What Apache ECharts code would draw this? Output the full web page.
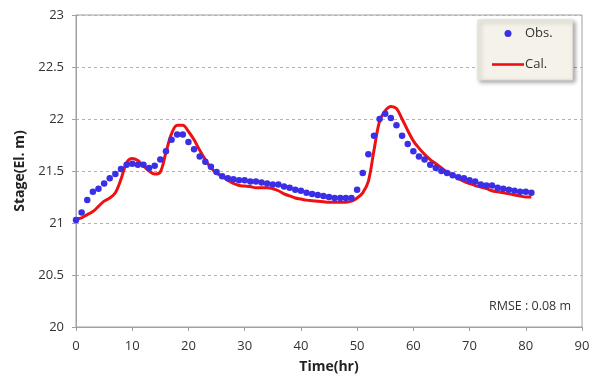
<!DOCTYPE html>
<html>
<head>
<meta charset="utf-8">
<script src="https://cdn.jsdelivr.net/npm/echarts@6/dist/echarts.min.js"></script>
<style>html,body{margin:0;padding:0;background:#fff;}#main{width:595px;height:379px;}</style>
</head>
<body>
<div id="main"></div>
<script>
var hours = [];
for (var h = 0; h <= 81; h++) hours.push(h);

var obsValues = [21.03,21.10,21.22,21.30,21.33,21.38,21.43,21.47,21.52,21.56,
21.57,21.56,21.56,21.53,21.55,21.61,21.69,21.80,21.85,21.85,
21.78,21.71,21.64,21.59,21.54,21.49,21.45,21.43,21.42,21.41,
21.41,21.40,21.40,21.39,21.38,21.37,21.37,21.35,21.34,21.32,
21.31,21.29,21.28,21.27,21.26,21.25,21.24,21.24,21.24,21.24,
21.32,21.48,21.66,21.84,22.00,22.05,22.01,21.94,21.84,21.76,
21.69,21.64,21.61,21.56,21.53,21.50,21.48,21.46,21.44,21.43,
21.41,21.40,21.37,21.36,21.36,21.34,21.33,21.32,21.31,21.30,
21.30,21.29];

var calValues = [21.04,21.05,21.08,21.11,21.16,21.21,21.24,21.29,21.42,21.58,
21.62,21.60,21.55,21.50,21.47,21.49,21.68,21.86,21.94,21.94,
21.88,21.80,21.70,21.61,21.53,21.48,21.45,21.41,21.38,21.36,
21.355,21.35,21.34,21.34,21.34,21.33,21.31,21.28,21.26,21.24,
21.23,21.22,21.215,21.21,21.205,21.20,21.20,21.20,21.20,21.21,
21.24,21.29,21.40,21.70,21.98,22.08,22.12,22.10,22.00,21.89,
21.79,21.72,21.66,21.61,21.57,21.53,21.49,21.46,21.43,21.40,
21.38,21.36,21.345,21.33,21.31,21.30,21.29,21.28,21.27,21.26,
21.25,21.25];

var seriesNames = ['Obs.', 'Cal.'];
var rmseText = 'RMSE : 0.08 m';
var xTitle = 'Time(hr)';
var yTitle = 'Stage(El. m)';

function pairs(xs, ys) { return xs.map(function (x, i) { return [x, ys[i]]; }); }

var FONT = 'Open Sans';
var chart = echarts.init(document.getElementById('main'), null, {renderer: 'canvas'});
chart.setOption({
  animation: false,
  backgroundColor: '#fff',
  textStyle: {fontFamily: FONT},
  grid: {left: 76, right: 13, top: 15, bottom: 49, show: true, borderColor: '#a0a0a0', borderWidth: 1, backgroundColor: 'transparent'},
  xAxis: {
    type: 'value', min: 0, max: 90, interval: 10,
    name: xTitle, nameLocation: 'middle', nameGap: 33,
    nameTextStyle: {fontFamily: FONT, fontSize: 14, fontWeight: 'bold', color: '#222'},
    axisLine: {show: true, lineStyle: {color: '#a0a0a0'}},
    axisTick: {show: true, length: 4, lineStyle: {color: '#a0a0a0'}},
    axisLabel: {fontFamily: FONT, fontSize: 13, color: '#333', margin: 13},
    splitLine: {show: false}
  },
  yAxis: {
    type: 'value', min: 20, max: 23, interval: 0.5,
    name: yTitle, nameLocation: 'middle', nameGap: 44,
    nameTextStyle: {fontFamily: FONT, fontSize: 14, fontWeight: 'bold', color: '#222'},
    axisLine: {show: true, lineStyle: {color: '#a0a0a0'}},
    axisTick: {show: true, length: 4, lineStyle: {color: '#a0a0a0'}},
    axisLabel: {fontFamily: FONT, fontSize: 13, color: '#333', margin: 12},
    splitLine: {show: true, lineStyle: {color: '#b0b0b0', type: [3, 3], width: 1}}
  },
  legend: {
    orient: 'vertical', left: 478, top: 20, width: 99,
    padding: [7, 20, 9, 14], itemGap: 18,
    itemWidth: 32, itemHeight: 7,
    backgroundColor: '#f5f2e9', borderColor: '#e0ddd4', borderWidth: 1,
    shadowBlur: 4, shadowColor: 'rgba(0,0,0,0.35)', shadowOffsetX: 2, shadowOffsetY: 2,
    textStyle: {fontFamily: FONT, fontSize: 13, color: '#333', padding: [0, 0, 0, -4]},
    data: [
      {name: seriesNames[0], icon: 'circle'},
      {name: seriesNames[1], icon: 'path://M0,0 L0,0 M0,2.2 L32,2.2 L32,4.8 L0,4.8 Z M32,7 L32,7'}
    ]
  },
  graphic: [{
    type: 'text', left: 489, top: 300,
    style: {text: rmseText, font: '12.5px "Open Sans"', fill: '#333'}
  }],
  series: [
    {
      name: seriesNames[1], type: 'line', data: pairs(hours, calValues),
      smooth: 0.35, showSymbol: false, symbol: 'none',
      lineStyle: {color: '#ee1111', width: 3}, itemStyle: {color: '#ee1111'}, z: 2
    },
    {
      name: seriesNames[0], type: 'scatter', data: pairs(hours, obsValues),
      symbol: 'circle', symbolSize: 6.5,
      itemStyle: {color: '#3a2ee6', opacity: 1}, z: 3
    }
  ]
});
</script>
</body>
</html>
